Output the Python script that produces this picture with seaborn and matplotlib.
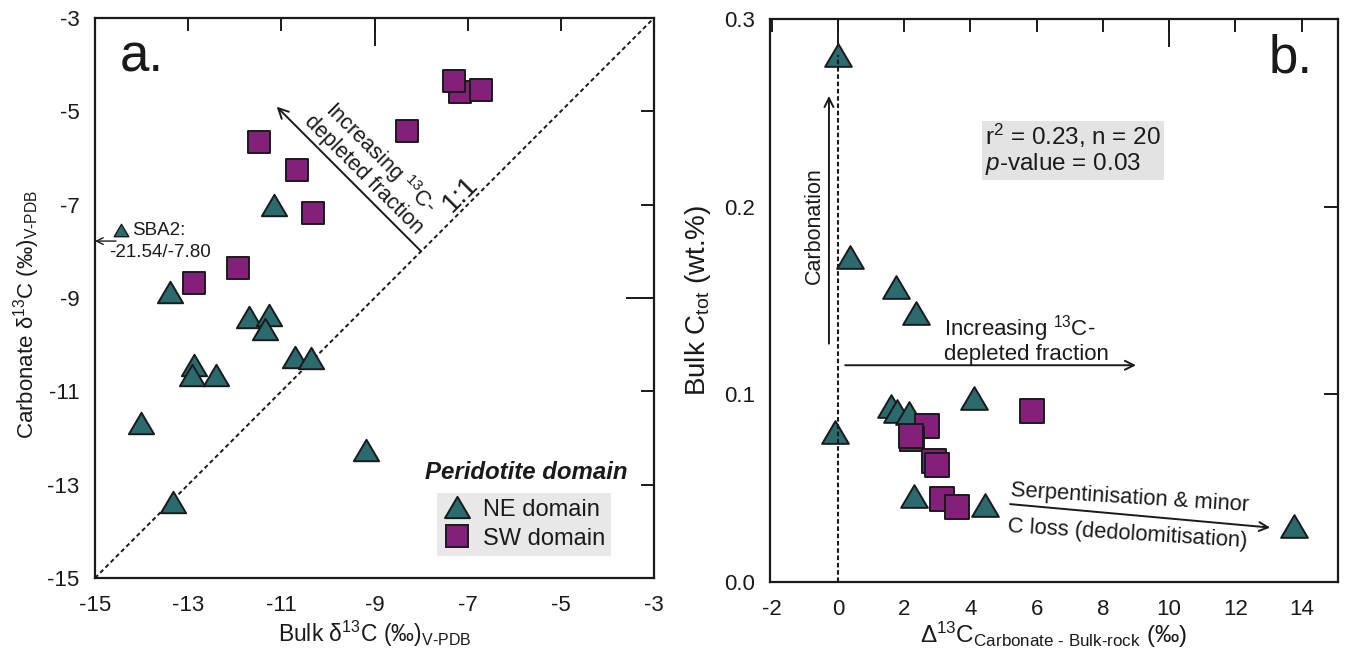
import numpy as np
import pandas as pd
import matplotlib
matplotlib.use("Agg")
import matplotlib.pyplot as plt
from matplotlib.lines import Line2D
from matplotlib.path import Path
import seaborn as sns

# ---------------- data ----------------
# Panel a: bulk vs carbonate d13C
a_ne_bulk = [-11.15, -13.38, -11.69, -11.27, -11.34, -12.87, -12.91, -12.41, -10.71, -10.36, -14.02, -9.18, -13.33]
a_ne_carb = [-7.00, -8.88, -9.40, -9.36, -9.66, -10.43, -10.65, -10.65, -10.27, -10.29, -11.68, -12.25, -13.38]
a_sw_bulk = [-7.17, -7.29, -6.72, -8.30, -11.49, -10.67, -10.32, -11.94, -12.87]
a_sw_carb = [-4.58, -4.36, -4.54, -5.43, -5.65, -6.25, -7.18, -8.36, -8.67]
sba2_marker = [(-14.44, -7.55)]
sba2_label = ["SBA2:", "-21.54/-7.80"]

# Panel b: Delta13C vs bulk Ctot
b_ne_delta = [0.0, 0.38, 1.74, 2.36, 1.61, 1.79, 2.15, 4.10, -0.10, 2.31, 4.45, 13.77]
b_ne_ctot = [0.281, 0.173, 0.157, 0.1435, 0.094, 0.091, 0.090, 0.098, 0.080, 0.046, 0.041, 0.030]
b_sw_delta = [5.85, 2.68, 2.25, 2.20, 2.90, 3.00, 3.13, 3.60]
b_sw_ctot = [0.091, 0.083, 0.076, 0.078, 0.0645, 0.0625, 0.044, 0.040]

a_ticks = [-15, -13, -11, -9, -7, -5, -3]
b_xticks = [-2, 0, 2, 4, 6, 8, 10, 12, 14]
b_yticks = [0.0, 0.1, 0.2, 0.3]

legend_labels = ["NE domain", "SW domain"]
legend_title = "Peridotite domain"

# ---------------- style ----------------
sns.set_style("white")
plt.rcParams["font.family"] = ["Liberation Sans", "DejaVu Sans"]
plt.rcParams["mathtext.fontset"] = "custom"
plt.rcParams["mathtext.rm"] = "Liberation Sans"
plt.rcParams["mathtext.it"] = "Liberation Sans:italic"
plt.rcParams["mathtext.bf"] = "Liberation Sans:bold"

TEAL = "#2b6a6d"
PURPLE = "#84207a"
INK = "#1a1a1a"
TRI = Path([(0, 0.85), (-1, -0.85), (1, -0.85), (0, 0.85)],
           [Path.MOVETO, Path.LINETO, Path.LINETO, Path.CLOSEPOLY])

fig = plt.figure(figsize=(13.52, 6.53), dpi=100)
axa = fig.add_axes([95 / 1352, 1 - 578 / 653, 559 / 1352, 560 / 653])
axb = fig.add_axes([770 / 1352, 1 - 582 / 653, 568 / 1352, 563 / 653])


def style_axes(ax):
    ax.xaxis.remove_overlapping_locs = False
    ax.yaxis.remove_overlapping_locs = False
    for s in ax.spines.values():
        s.set_linewidth(1.6)
        s.set_color(INK)
    ax.tick_params(which="both", direction="in", top=True, right=True,
                   width=1.4, color=INK, labelsize=16, labelcolor=INK)
    ax.tick_params(axis="x", which="both", pad=12)
    ax.tick_params(axis="y", which="both", pad=11)
    ax.tick_params(which="major", length=9.5)
    ax.tick_params(which="minor", length=20)


# ---------------- panel a ----------------
ax = axa
ax.plot([-15, -3], [-15, -3], ls=(0, (2.2, 1.6)), color=INK, lw=1.4, zorder=1)
sns.scatterplot(x=a_ne_bulk, y=a_ne_carb, ax=ax, marker=TRI, s=330, color=TEAL,
                edgecolor=INK, linewidth=1.4, zorder=3, legend=False)
sns.scatterplot(x=a_sw_bulk, y=a_sw_carb, ax=ax, marker="s", s=250, color=PURPLE,
                edgecolor=INK, linewidth=1.4, zorder=3, legend=False)
sns.scatterplot(x=[p[0] for p in sba2_marker], y=[p[1] for p in sba2_marker], ax=ax,
                marker=TRI, s=110, color=TEAL, edgecolor=INK, linewidth=1.0,
                zorder=3, legend=False)
ax.set_xlim(-15, -3)
ax.set_ylim(-15, -3)
ax.set_xticks(a_ticks)
ax.set_yticks(a_ticks)
ax.set_xticklabels([str(t) for t in a_ticks])
ax.set_yticklabels([str(t) for t in a_ticks])
ax.set_xticks([-9], minor=True)
ax.set_yticks([-9], minor=True)
style_axes(ax)
ax.set_xlabel("Bulk δ$^{13}$C (‰)$_{\\rm V‐PDB}$", fontsize=16.5, color=INK, labelpad=2)
ax.set_ylabel("Carbonate δ$^{13}$C (‰)$_{\\rm V‐PDB}$", fontsize=16, color=INK)
ax.yaxis.set_label_coords(-0.094, 0.47)

ax.text(0.045, 0.93, "a.", transform=ax.transAxes, fontsize=38, color=INK,
        ha="left", va="center")
ax.text(-7.15, -6.78, "1:1", rotation=45, fontsize=20, color=INK,
        ha="center", va="center", rotation_mode="anchor")
ax.annotate("", xy=(-11.1, -4.9), xytext=(-8.0, -8.0),
            arrowprops=dict(arrowstyle="->", color=INK, lw=1.4,
                            mutation_scale=18, shrinkA=0, shrinkB=0))
ax.text(-9.02, -6.15, "Increasing $^{13}$C-\ndepleted fraction", rotation=-45,
        fontsize=15.5, color=INK, ha="center", va="center", rotation_mode="anchor",
        linespacing=0.95)
ax.annotate("", xy=(-15.0, -7.78), xytext=(-14.55, -7.78),
            arrowprops=dict(arrowstyle="->", color=INK, lw=1.0,
                            mutation_scale=12, shrinkA=0, shrinkB=0))
ax.text(-14.2, -7.55, sba2_label[0], fontsize=13.5, color=INK, ha="left", va="center")
ax.text(-14.7, -8.02, sba2_label[1], fontsize=13.5, color=INK, ha="left", va="center")

handles = [
    Line2D([], [], marker=TRI, ls="none", markersize=18, markerfacecolor=TEAL,
           markeredgecolor=INK, markeredgewidth=1.4),
    Line2D([], [], marker="s", ls="none", markersize=15.5, markerfacecolor=PURPLE,
           markeredgecolor=INK, markeredgewidth=1.4),
]
leg = ax.legend(handles, legend_labels, loc="lower left",
                bbox_to_anchor=(0.612, 0.04), frameon=True, fancybox=False,
                fontsize=17, handletextpad=0.5, borderpad=0.25,
                labelspacing=0.3, handlelength=1.2, borderaxespad=0)
leg.get_frame().set_facecolor("#e3e3e3")
leg.get_frame().set_edgecolor("none")
for t in leg.get_texts():
    t.set_color(INK)
ax.text(0.772, 0.188, legend_title, transform=ax.transAxes, fontsize=17.3,
        fontweight="bold", fontstyle="italic", color=INK, ha="center", va="center")

# ---------------- panel b ----------------
ax = axb
ax.plot([0, 0], [0, 0.281], ls=(0, (2.2, 1.3)), color=INK, lw=1.5, zorder=4)
sns.scatterplot(x=b_ne_delta, y=b_ne_ctot, ax=ax, marker=TRI, s=370, color=TEAL,
                edgecolor=INK, linewidth=1.4, zorder=3, legend=False)
sns.scatterplot(x=b_sw_delta, y=b_sw_ctot, ax=ax, marker="s", s=290, color=PURPLE,
                edgecolor=INK, linewidth=1.4, zorder=3, legend=False)
ax.set_xlim(-2.05, 15.1)
ax.set_ylim(0, 0.3)
ax.set_xticks(b_xticks)
ax.set_xticklabels([str(t) for t in b_xticks])
ax.set_yticks(b_yticks)
ax.set_yticklabels([f"{t:.1f}" for t in b_yticks])
ax.set_xticks([0, 10], minor=True)
style_axes(ax)
ax.tick_params(axis="y", which="major", length=10)
ax.set_xlabel("Δ$^{13}$C$_{\\rm Carbonate\\ ‐\\ Bulk‐rock}$ (‰)", fontsize=17.5,
              color=INK, labelpad=0)
ax.set_ylabel("Bulk C$_{\\rm tot}$ (wt.%)", fontsize=20, color=INK, labelpad=8)

ax.text(0.955, 0.93, "b.", transform=ax.transAxes, fontsize=38, color=INK,
        ha="right", va="center")
ax.text(4.45, 0.2305, "r$^2$ = 0.23, n = 20\n$p$-value = 0.03", fontsize=17.5,
        color=INK, ha="left", va="center", linespacing=1.05,
        bbox=dict(boxstyle="square,pad=0.12", facecolor="#e3e3e3", edgecolor="none"))
ax.annotate("", xy=(-0.27, 0.259), xytext=(-0.27, 0.127),
            arrowprops=dict(arrowstyle="->", color=INK, lw=1.4,
                            mutation_scale=16, shrinkA=0, shrinkB=0))
ax.text(-0.72, 0.19, "Carbonation", rotation=90, fontsize=15.5, color=INK,
        ha="center", va="center")
ax.annotate("", xy=(9.0, 0.1155), xytext=(0.22, 0.1155),
            arrowprops=dict(arrowstyle="->", color=INK, lw=1.4,
                            mutation_scale=16, shrinkA=0, shrinkB=0))
ax.text(3.2, 0.1295, "Increasing $^{13}$C-\ndepleted fraction", fontsize=16,
        color=INK, ha="left", va="center", linespacing=0.95)
ax.annotate("", xy=(13.05, 0.029), xytext=(5.2, 0.0415),
            arrowprops=dict(arrowstyle="->", color=INK, lw=1.4,
                            mutation_scale=16, shrinkA=0, shrinkB=0))
ax.text(8.8, 0.0445, "Serpentinisation & minor", rotation=-3.6, fontsize=15.8,
        color=INK, ha="center", va="center", rotation_mode="anchor")
ax.text(8.75, 0.0258, "C loss (dedolomitisation)", rotation=-3.6, fontsize=15.8,
        color=INK, ha="center", va="center", rotation_mode="anchor")

fig.savefig("out.png", dpi=100, facecolor="white")
